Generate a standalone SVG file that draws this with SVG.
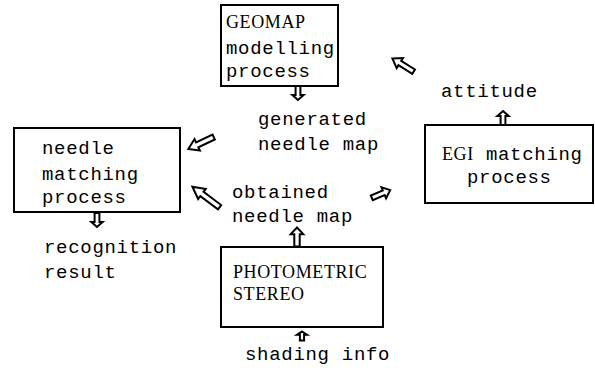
<svg xmlns="http://www.w3.org/2000/svg" width="595" height="370" viewBox="0 0 595 370">
<style>
.box{fill:#fff;stroke:#000;stroke-width:2}
.t{font-family:"Liberation Mono","DejaVu Sans Mono",monospace;font-size:19px;letter-spacing:0.7px;fill:#000}
.c{font-family:"Liberation Serif","DejaVu Serif",serif;font-size:18px;letter-spacing:0.6px;fill:#000}
.ar{fill:#fff;stroke:#000;stroke-width:2;stroke-linejoin:miter}
</style>
<defs>
<path id="arr" class="ar" vector-effect="non-scaling-stroke" d="M0,-10 L7,-3 L3,-3 L3,10 L-3,10 L-3,-3 L-7,-3 Z"/>
</defs>
<g id="geomap">
<rect class="box" x="221" y="5" width="117" height="81"/>
<text class="c" x="226" y="28">GEOMAP</text>
<text class="t" x="226" y="54">modelling</text>
<text class="t" x="226" y="77">process</text>
</g>
<g id="needle">
<rect class="box" x="14" y="128" width="166" height="84"/>
<text class="t" x="42" y="154">needle</text>
<text class="t" x="42" y="180">matching</text>
<text class="t" x="42" y="203">process</text>
</g>
<g id="egi">
<rect class="box" x="425" y="125" width="168" height="78"/>
<text x="442" y="160"><tspan class="c">EGI</tspan><tspan class="t"> matching</tspan></text>
<text class="t" x="467" y="183">process</text>
</g>
<g id="photometric">
<rect class="box" x="221" y="247" width="162" height="80"/>
<text class="c" x="233" y="278">PHOTOMETRIC</text>
<text class="c" x="233" y="300">STEREO</text>
</g>
<g id="labels">
<text class="t" x="258" y="125">generated</text>
<text class="t" x="258" y="150">needle map</text>
<text class="t" x="232" y="198">obtained</text>
<text class="t" x="232" y="222">needle map</text>
<text class="t" x="44" y="253">recognition</text>
<text class="t" x="44" y="278">result</text>
<text class="t" x="441" y="97">attitude</text>
<text class="t" x="245" y="360">shading info</text>
</g>
<g id="connectors">
<use href="#arr" transform="translate(298,93) rotate(180) scale(0.8,0.7)"/>
<use href="#arr" transform="translate(201,143) rotate(-115) scale(0.9,1.4)"/>
<use href="#arr" transform="translate(206,197) rotate(-53) scale(0.9,1.7)"/>
<use href="#arr" transform="translate(381,194) rotate(67) scale(0.85,1.0)"/>
<use href="#arr" transform="translate(403,65) rotate(-58) scale(0.85,1.25)"/>
<use href="#arr" transform="translate(503,118) scale(0.8,0.7)"/>
<use href="#arr" transform="translate(97,220) rotate(180) scale(0.8,0.7)"/>
<use href="#arr" transform="translate(297,237) scale(0.9,0.95)"/>
<use href="#arr" transform="translate(302,336) scale(0.7,0.45)"/>
</g>
</svg>
